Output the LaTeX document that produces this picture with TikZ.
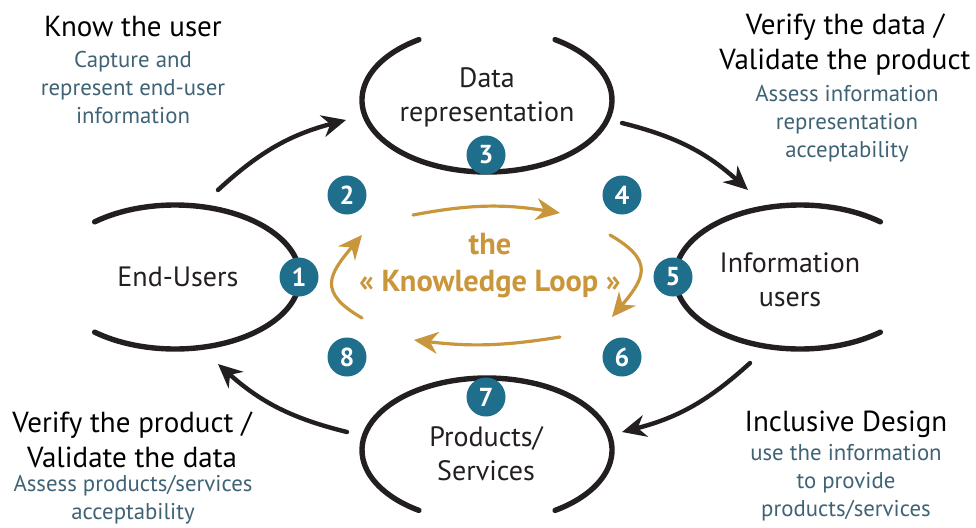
\documentclass[tikz,border=0pt]{standalone}
\usepackage{fontspec}
\setmainfont{PT Sans}
\usetikzlibrary{arrows.meta}
\definecolor{inkblack}{HTML}{231F20}
\definecolor{loopgold}{HTML}{C9963B}
\definecolor{stepblue}{HTML}{1F6E8C}
\definecolor{notegray}{HTML}{3F6375}
\tikzset{>={Stealth[length=12pt,width=11pt]}}
\tikzset{
  stagearc/.style={line width=2.7pt, inkblack, line cap=round},
  cycle/.style={->, line width=2.2pt, inkblack, line cap=round},
  loop/.style={->, line width=1.6pt, loopgold, line cap=round},
  numdot/.style={circle, fill=stepblue, text=white, inner sep=0pt, minimum size=19.5pt, font=\fontsize{13}{13}\selectfont\bfseries},
  stagename/.style={align=center, inkblack, font=\fontsize{14}{17}\selectfont},
  headline/.style={align=center, black, font=\fontsize{14.5}{17.5}\selectfont},
  note/.style={align=center, notegray, font=\fontsize{11.4}{14}\selectfont}
}

\begin{document}
\begin{tikzpicture}[x=0.5pt, y=0.5pt, line join = round]
    \useasboundingbox (0,0) rectangle (976,-527);
    % the four stages
    \node[stagename] (users) at (178,-277) {End-Users};
    \node[stagename] (data) at (487,-97) {Data\\representation};
    \node[stagename] (info) at (790,-280) {Information\\users};
    \node[stagename] (products) at (486,-454) {Products/\\Services};
    \draw[stagearc] (175,-277) ++(130:125 and 72) arc[start angle=130, end angle=-130, x radius=125, y radius=72];
    \draw[stagearc] (487,-100) ++(123:125 and 72) arc[start angle=123, end angle=417, x radius=125, y radius=72];
    \draw[stagearc] (800,-277) ++(50:125 and 72) arc[start angle=50, end angle=310, x radius=125, y radius=72];
    \draw[stagearc] (487,-450) ++(-57:125 and 72) arc[start angle=-57, end angle=237, x radius=125, y radius=72];
    % numbered steps
    \node[numdot] (n1) at (299,-277) {1};
    \node[numdot] (n2) at (347,-195) {2};
    \node[numdot] (n3) at (486,-155) {3};
    \node[numdot] (n4) at (622,-195) {4};
    \node[numdot] (n5) at (673,-277) {5};
    \node[numdot] (n6) at (622,-357) {6};
    \node[numdot] (n7) at (486,-397) {7};
    \node[numdot] (n8) at (347,-357) {8};
    % outer cycle
    \coordinate (a1s) at (218,-190); \coordinate (a1e) at (346,-120);
    \coordinate (a2s) at (622,-123); \coordinate (a2e) at (748,-190);
    \coordinate (a3s) at (750,-363); \coordinate (a3e) at (622,-432);
    \coordinate (a4s) at (347,-432); \coordinate (a4e) at (218,-364);
    \draw[cycle] (a1s) to[bend left=14] (a1e);
    \draw[cycle] (a2s) to[bend left=14] (a2e);
    \draw[cycle] (a3s) to[bend left=14] (a3e);
    \draw[cycle] (a4s) to[bend left=14] (a4e);
    % knowledge loop
    \node[loopgold, align=center, font=\fontsize{15.2}{18.5}\selectfont\bfseries] (kloop) at (490,-266) {the\\« Knowledge Loop »};
    \coordinate (g1s) at (413,-215); \coordinate (g1e) at (560,-213);
    \coordinate (g2s) at (610,-235); \coordinate (g2e) at (612,-317);
    \coordinate (g3s) at (560,-337); \coordinate (g3e) at (414,-340);
    \coordinate (g4s) at (362,-318); \coordinate (g4e) at (362,-235);
    \draw[loop] (g1s) to[bend left=10] (g1e);
    \draw[loop] (g2s) to[out=-30, in=50, looseness=1.6] (g2e);
    \draw[loop] (g3s) to[bend left=8] (g3e);
    \draw[loop] (g4s) to[out=150, in=230, looseness=1.6] (g4e);
    % corner texts
    \node[headline] (knowhead) at (133,-27) {Know the user};
    \node[note] (knownote) at (133,-88) {Capture and\\represent end-user\\information};
    \node[headline] (datahead) at (845,-45) {Verify the data /\\Validate the product};
    \node[note] (datanote) at (847,-124) {Assess information\\representation\\acceptability};
    \node[headline] (prodhead) at (132,-440) {Verify the product /\\Validate the data};
    \node[note] (prodnote) at (133,-500) {Assess products/services\\acceptability};
    \node[headline] (incluhead) at (846,-424) {Inclusive Design};
    \node[note] (inclunote) at (846,-483) {use the information\\to provide\\products/services};
\end{tikzpicture}
\end{document}
